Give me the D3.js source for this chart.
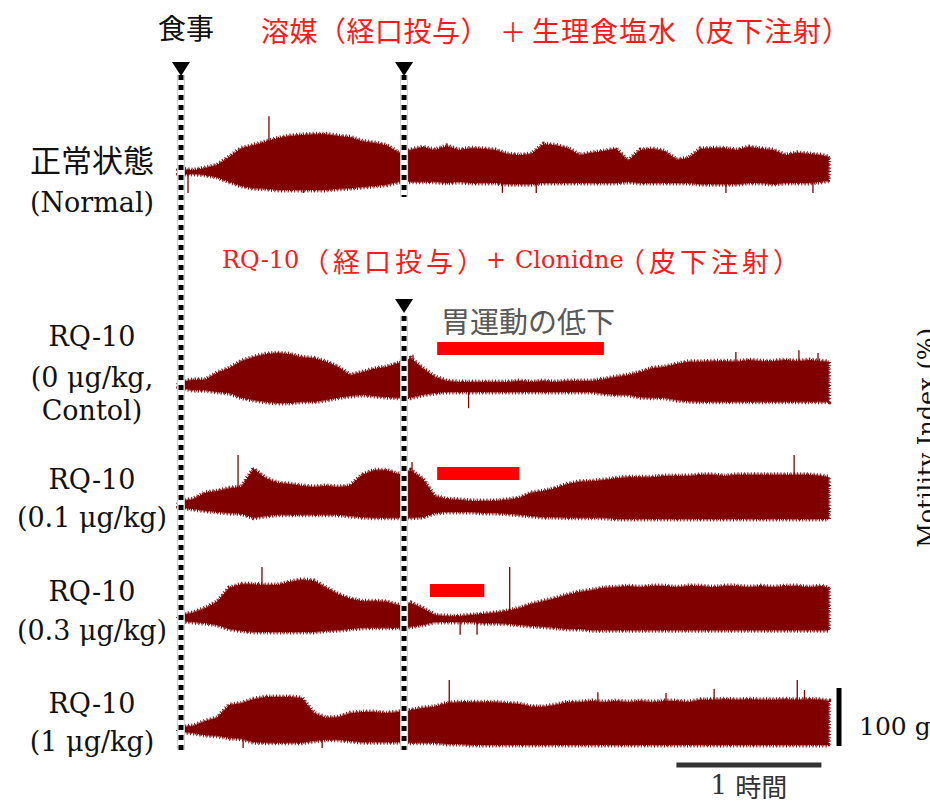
<!DOCTYPE html>
<html>
<head>
<meta charset="utf-8">
<script src="https://cdnjs.cloudflare.com/ajax/libs/d3/7.8.5/d3.min.js"></script>
<style>
  body { margin: 0; background: #fff; }
  .jp { font-family: "Noto Sans CJK JP", sans-serif; }
  .serif { font-family: "DejaVu Serif", serif; }
</style>
</head>
<body>
<script>
const w = 930;
const h = 802;

// sample times, minutes after feeding
const times = [-1, ...d3.range(0, 266, 5), 268];

// envelope of each trace in g: above (top) and below (bottom) the baseline
const normalTop = [3, 5, 3, 7, 12, 26, 41, 46, 52, 58, 62, 64, 65, 65, 62, 60, 53, 50, 46, 33,
  38, 43, 38, 45, 38, 41, 40, 38, 31, 29, 31, 48, 46, 41, 29, 33, 36, 40, 19, 38,
  40, 36, 21, 24, 40, 41, 41, 38, 43, 40, 38, 29, 33, 31, 29, 26];
const normalBottom = [3, 5, 3, 5, 9, 17, 24, 28, 29, 31, 31, 31, 31, 31, 29, 28, 26, 24, 22, 17,
  17, 17, 17, 19, 17, 19, 19, 19, 21, 21, 21, 19, 19, 19, 19, 19, 19, 19, 17, 19,
  19, 19, 19, 19, 21, 21, 21, 21, 19, 19, 21, 19, 19, 19, 17, 15];

const dose0Top = [3, 5, 9, 9, 21, 29, 41, 48, 53, 55, 53, 48, 46, 40, 31, 17, 22, 28, 31, 38,
  46, 29, 14, 7, 5, 5, 5, 5, 5, 7, 5, 7, 5, 7, 7, 7, 10, 14, 17, 22,
  29, 31, 36, 40, 40, 41, 41, 40, 43, 41, 41, 43, 41, 43, 41, 40];
const dose0Bottom = [3, 5, 9, 9, 12, 14, 22, 26, 29, 31, 31, 29, 29, 26, 22, 19, 17, 19, 21, 22,
  22, 17, 14, 12, 12, 12, 12, 12, 12, 12, 12, 12, 12, 12, 12, 12, 15, 17, 17, 21,
  22, 22, 26, 28, 29, 29, 29, 29, 29, 29, 29, 29, 29, 29, 29, 29];

const dose01Top = [5, 7, 10, 21, 24, 29, 31, 62, 46, 38, 36, 33, 31, 33, 31, 33, 52, 60, 60, 53,
  60, 45, 15, 10, 9, 7, 7, 7, 9, 12, 21, 24, 29, 36, 40, 41, 43, 46, 48, 48,
  48, 50, 50, 50, 52, 52, 50, 52, 52, 52, 52, 52, 52, 52, 50, 48];
const dose01Bottom = [3, 5, 7, 10, 12, 14, 15, 22, 19, 17, 17, 17, 17, 17, 17, 19, 21, 22, 22, 22,
  22, 21, 14, 12, 12, 12, 14, 14, 15, 17, 19, 21, 21, 22, 22, 22, 22, 24, 24, 24,
  24, 24, 24, 24, 24, 24, 24, 24, 24, 24, 24, 24, 24, 24, 24, 24];

const dose03Top = [3, 5, 9, 17, 28, 52, 58, 58, 57, 57, 62, 66, 64, 52, 41, 33, 29, 29, 28, 22,
  26, 17, 5, 3, 3, 5, 7, 9, 12, 17, 24, 29, 34, 40, 45, 48, 52, 53, 55, 53,
  55, 55, 53, 55, 55, 53, 55, 55, 53, 55, 53, 55, 55, 53, 55, 52];
const dose03Bottom = [3, 5, 7, 9, 12, 19, 22, 24, 24, 24, 24, 24, 24, 22, 21, 19, 17, 17, 17, 17,
  15, 12, 7, 7, 7, 7, 9, 9, 10, 12, 14, 15, 17, 19, 19, 21, 21, 21, 21, 21,
  21, 21, 21, 21, 21, 21, 21, 21, 21, 21, 21, 21, 21, 21, 21, 21];

const dose1Top = [3, 5, 7, 15, 21, 43, 46, 53, 57, 57, 57, 55, 29, 21, 22, 29, 31, 31, 29, 31,
  34, 38, 40, 46, 48, 48, 48, 48, 46, 45, 40, 40, 43, 48, 48, 50, 48, 50, 48, 50,
  48, 50, 50, 48, 52, 52, 53, 52, 53, 52, 52, 53, 52, 53, 52, 50];
const dose1Bottom = [3, 3, 5, 9, 10, 14, 15, 21, 22, 22, 22, 22, 19, 17, 17, 19, 21, 21, 21, 21,
  22, 22, 22, 24, 24, 26, 26, 26, 26, 26, 26, 26, 26, 26, 26, 26, 26, 26, 26, 26,
  26, 26, 26, 26, 26, 26, 26, 26, 26, 26, 26, 26, 26, 26, 26, 26];

// single spikes standing out of the envelope (t in min, g: + up / - down)
const normalSpikes = [[0.8, 21], [2.9, -36], [36.4, 96], [50.6, -36], [133, -36], [147, -36], [225.5, -36], [261.5, -36]];
const dose0Spikes = [[96, 52], [119, -40], [229.6, 57], [255.7, 60], [263.6, 55]];
const dose01Spikes = [[23.6, 86], [95.6, 74], [253.7, 86]];
const dose03Spikes = [[33.5, 88], [115.5, -29], [122.5, -29], [136, 88]];
const dose1Spikes = [[25.7, -31], [58.4, -31], [111, 86], [172.5, 65], [200.7, 64], [220.6, 71], [255, 86], [258, 69]];

const labels = [["正常状態", "(Normal)"], ["RQ-10", "(0 μg/kg,", "Contol)"],
  ["RQ-10", "(0.1 μg/kg)"], ["RQ-10", "(0.3 μg/kg)"], ["RQ-10", "(1 μg/kg)"]];

// periods of reduced gastric motility (min), traces 2-4
const lowPeriods = [[106, 175], [106, 140], [103, 125.5]];

const feedTime = 0;
const doseTime = 92.3;
const scaleG = 100;     // vertical scale bar
const scaleMin = 60;    // horizontal scale bar

const traces = [
  { top: normalTop, bottom: normalBottom, spikes: normalSpikes },
  { top: dose0Top, bottom: dose0Bottom, spikes: dose0Spikes },
  { top: dose01Top, bottom: dose01Bottom, spikes: dose01Spikes },
  { top: dose03Top, bottom: dose03Bottom, spikes: dose03Spikes },
  { top: dose1Top, bottom: dose1Bottom, spikes: dose1Spikes }
];

const baselines = [172, 385, 505, 618, 730];
const labelY = [[158, 212], [346, 387, 420], [489, 527], [601, 640], [713, 751]];
const traceColor = "#800000";

const x = d3.scaleLinear().domain([0, 60]).range([181, 326]);
const amp = d3.scaleLinear().domain([0, 100]).range([0, 58]);

const svg = d3.select("body")
              .append("svg")
              .attr("width", w)
              .attr("height", h)
              .style("display", "block");

svg.append("rect").attr("width", w).attr("height", h).attr("fill", "#fff");

// traces
traces.forEach((tr, i) => {
  const base = baselines[i];
  const rows = times.map((t, k) => ({ t: t, hi: tr.top[k], lo: tr.bottom[k] }));
  const area = d3.area()
                 .x(d => x(d.t))
                 .y0(d => base + amp(d.lo))
                 .y1(d => base - amp(d.hi));
  const g = svg.append("g");
  g.append("path")
   .datum(rows)
   .attr("d", area)
   .attr("fill", traceColor);
  // hairy edge of the dense recording
  g.append("path")
   .datum(rows)
   .attr("d", area)
   .attr("fill", "none")
   .attr("stroke", traceColor)
   .attr("stroke-width", 5)
   .attr("stroke-dasharray", "1 2.3")
   .attr("opacity", 0.9);
  g.append("path")
   .datum(rows)
   .attr("d", area)
   .attr("fill", "none")
   .attr("stroke", traceColor)
   .attr("stroke-width", 2.5)
   .attr("stroke-dasharray", "1 1.1");
  g.selectAll("line")
   .data(tr.spikes)
   .enter()
   .append("line")
   .attr("x1", d => x(d[0]))
   .attr("x2", d => x(d[0]))
   .attr("y1", base)
   .attr("y2", d => base - Math.sign(d[1]) * amp(Math.abs(d[1])))
   .attr("stroke", traceColor)
   .attr("stroke-width", 1.3);
});

// dotted event lines
const eventLines = [[feedTime, 75, 750], [doseTime, 75, 197], [doseTime, 316, 750]];
eventLines.forEach(d => {
  const g = svg.append("g");
  g.append("line").attr("stroke", "#d0d0d0").attr("stroke-width", 8);
  g.append("line").attr("stroke", "#fff").attr("stroke-width", 6);
  g.append("line").attr("stroke", "#000").attr("stroke-width", 5).attr("stroke-dasharray", "5 5");
  g.selectAll("line")
   .attr("x1", x(d[0])).attr("x2", x(d[0]))
   .attr("y1", d[1]).attr("y2", d[2]);
});

// triangles
const triangles = [[feedTime, 76], [doseTime, 76], [doseTime, 313]];
svg.append("g").selectAll("path")
   .data(triangles)
   .enter()
   .append("path")
   .attr("d", "M-9,-14L9,-14L0,0Z")
   .attr("transform", d => `translate(${x(d[0])},${d[1]})`)
   .attr("fill", "#000");

// red bars: reduced motility
const barY = [342, 467, 584];
svg.append("g").selectAll("rect")
   .data(lowPeriods)
   .enter()
   .append("rect")
   .attr("x", d => x(d[0]))
   .attr("width", d => x(d[1]) - x(d[0]))
   .attr("y", (d, i) => barY[i])
   .attr("height", 13)
   .attr("fill", "#ff0000");

svg.append("text")
   .attr("class", "jp")
   .attr("x", 441).attr("y", 320)
   .attr("dominant-baseline", "central")
   .style("font-size", "29px")
   .attr("fill", "#595959")
   .text("胃運動の低下");

// row labels
labels.forEach((lines, i) => {
  lines.forEach((s, j) => {
    const isJp = /[\u3040-\u9fff]/.test(s);
    svg.append("text")
       .attr("class", isJp ? "jp" : "serif")
       .attr("x", 92)
       .attr("y", labelY[i][j])
       .attr("text-anchor", "middle")
       .attr("dominant-baseline", isJp ? "central" : "auto")
       .style("font-size", isJp ? "31px" : "27px")
       .attr("fill", "#111")
       .text(s);
  });
});

// titles
svg.append("text")
   .attr("class", "jp")
   .attr("x", x(feedTime) + 5).attr("y", 27)
   .attr("text-anchor", "middle")
   .attr("dominant-baseline", "central")
   .style("font-size", "28px")
   .attr("fill", "#111")
   .text("食事");

// pieces: text, x, class, size, letter-spacing
const title1 = [["溶媒（経口投与）", 261, "jp", 28, 0.5], ["＋", 500, "jp", 26, 0], ["生理食塩水（皮下注射）", 532, "jp", 28, 1]];
const title2 = [["RQ-10", 222, "serif", 24, 0], ["（経口投与）", 302, "jp", 27, 4], ["+", 486, "serif", 24, 0],
  ["Clonidne", 515, "serif", 24, 0], ["（皮下注射）", 618, "jp", 27, 4]];
[[title1, 30], [title2, 260]].forEach(([pieces, ty]) => {
  svg.append("g").selectAll("text")
     .data(pieces)
     .enter()
     .append("text")
     .attr("class", d => d[2])
     .attr("x", d => d[1])
     .attr("y", ty)
     .attr("dominant-baseline", "central")
     .style("font-size", d => d[3] + "px")
     .style("letter-spacing", d => d[4] + "px")
     .attr("fill", "#ff1a1a")
     .text(d => d[0]);
});

// scale bars
svg.append("line")
   .attr("x1", 839).attr("x2", 839)
   .attr("y1", 746).attr("y2", 746 - amp(scaleG))
   .attr("stroke", "#000").attr("stroke-width", 5);
svg.append("text")
   .attr("class", "serif")
   .attr("x", 859).attr("y", 735)
   .style("font-size", "25px")
   .attr("fill", "#111")
   .text("100 g");

const hx = x(205);
svg.append("line")
   .attr("x1", hx).attr("x2", hx + (x(scaleMin) - x(0)))
   .attr("y1", 765).attr("y2", 765)
   .attr("stroke", "#333").attr("stroke-width", 5);
const t3 = svg.append("text")
   .attr("x", hx + (x(scaleMin) - x(0)) / 2).attr("y", 785)
   .attr("text-anchor", "middle")
   .attr("dominant-baseline", "central")
   .attr("fill", "#333");
t3.append("tspan").attr("class", "serif").style("font-size", "26px").text("1 ");
t3.append("tspan").attr("class", "jp").style("font-size", "26px").text("時間");

// right axis title (cut at the edge)
svg.append("text")
   .attr("class", "serif")
   .attr("transform", "translate(935,328) rotate(-90)")
   .attr("text-anchor", "end")
   .style("font-size", "24px")
   .attr("fill", "#111")
   .text("Motility Index (%)");
</script>
</body>
</html>
